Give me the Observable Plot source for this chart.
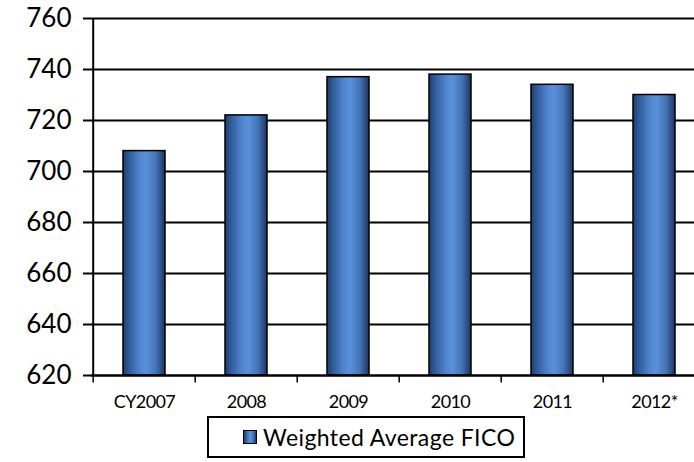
<!DOCTYPE html>
<html>
<head>
<meta charset="utf-8">
<script src="https://cdn.jsdelivr.net/npm/d3@7"></script>
<script src="https://cdn.jsdelivr.net/npm/@observablehq/plot@0.6"></script>
<style>
  html, body { margin: 0; padding: 0; background: #fff; overflow: hidden; }
  #wrap { width: 694px; height: 462px; overflow: hidden; position: relative; font-family: Lato, "DejaVu Sans", sans-serif; }
  #chart svg { display: block; max-width: none !important; }
  .legend {
    position: absolute; left: 207px; top: 416px; width: 314px; height: 38px;
    border: 2px solid #000; box-sizing: content-box;
    display: flex; align-items: center; font-size: 23px; letter-spacing: 0.4px; color: #000;
  }
  .legend .sw {
    width: 12px; height: 12px; margin-left: 34px; margin-right: 6px;
    border: 1.5px solid #000;
    background: linear-gradient(to right, #1f3d6b 0%, #4f85cf 40%, #5a91db 55%, #3f6fb0 80%, #1c365e 100%);
  }
</style>
</head>
<body>
<div id="wrap">
  <div id="chart"></div>
  <div class="legend"><span class="sw"></span><span id="legend-label"></span></div>
</div>
<script>
// Weighted average FICO score by year
const years = ["CY2007", "2008", "2009", "2010", "2011", "2012*"];
const fico = [708, 722, 737, 738, 734, 730];
const yTicks = [620, 640, 660, 680, 700, 720, 740, 760];
const seriesName = "Weighted Average FICO";

const data = years.map((year, i) => ({year, fico: fico[i]}));

const W = 708, H = 416;
const mLeft = 91, mRight = 1.4, mTop = 18, mBottom = 41;
const step = (W - mLeft - mRight) / years.length;
const yMin = 620, yMax = 760;
// length of the category separator ticks below the axis, in y units
const tickLen = 7 * (yMax - yMin) / (H - mTop - mBottom);

// horizontal shading for the bars
const gradient = () => {
  const ns = "http://www.w3.org/2000/svg";
  const defs = document.createElementNS(ns, "defs");
  const lg = document.createElementNS(ns, "linearGradient");
  lg.setAttribute("id", "barShade");
  lg.setAttribute("x1", "0"); lg.setAttribute("x2", "1");
  lg.setAttribute("y1", "0"); lg.setAttribute("y2", "0");
  [["0%", "#1f3d6b"], ["15%", "#315d9c"], ["40%", "#4f85cf"], ["55%", "#5a91db"], ["78%", "#4474b8"], ["100%", "#1c365e"]]
    .forEach(([o, c]) => {
      const s = document.createElementNS(ns, "stop");
      s.setAttribute("offset", o); s.setAttribute("stop-color", c);
      lg.appendChild(s);
    });
  defs.appendChild(lg);
  return defs;
};

const chart = Plot.plot({
  width: W,
  height: H,
  marginLeft: mLeft,
  marginRight: mRight,
  marginTop: mTop,
  marginBottom: mBottom,
  style: {fontFamily: "Lato, 'DejaVu Sans', sans-serif", color: "#000", background: "#fff", maxWidth: "none"},
  x: {domain: years, paddingInner: 0.59, paddingOuter: 0.295, label: null},
  y: {domain: [yMin, yMax], label: null},
  marks: [
    gradient,
    Plot.ruleY(yTicks, {stroke: "#000", strokeWidth: 2}),
    Plot.barY(data, {x: "year", y1: yMin, y2: "fico", fill: "url(#barShade)", stroke: "#000", strokeWidth: 1.5}),
    Plot.axisY({ticks: yTicks, tickSize: 8, tickPadding: 12, fontSize: 26, stroke: "#000", strokeWidth: 2, label: null, tickFormat: d => String(d)}),
    Plot.link(years, {x1: d => d, x2: d => d, y1: yMin, y2: yMin - tickLen, dx: -step / 2, stroke: "#000", strokeWidth: 1.5}),
    Plot.axisX({tickSize: 0, tickPadding: 20, fontSize: 18, label: null}),
    Plot.ruleX([years[0]], {x: d => d, dx: -step / 2, y1: yMin, y2: yMax, stroke: "#000", strokeWidth: 2}),
    Plot.ruleY([yMin], {stroke: "#000", strokeWidth: 2})
  ]
});

d3.select(chart).selectAll("[aria-label='x-axis tick label'] text").style("letter-spacing", "-0.6px");
document.getElementById("chart").appendChild(chart);
document.getElementById("legend-label").textContent = seriesName;
</script>
</body>
</html>
